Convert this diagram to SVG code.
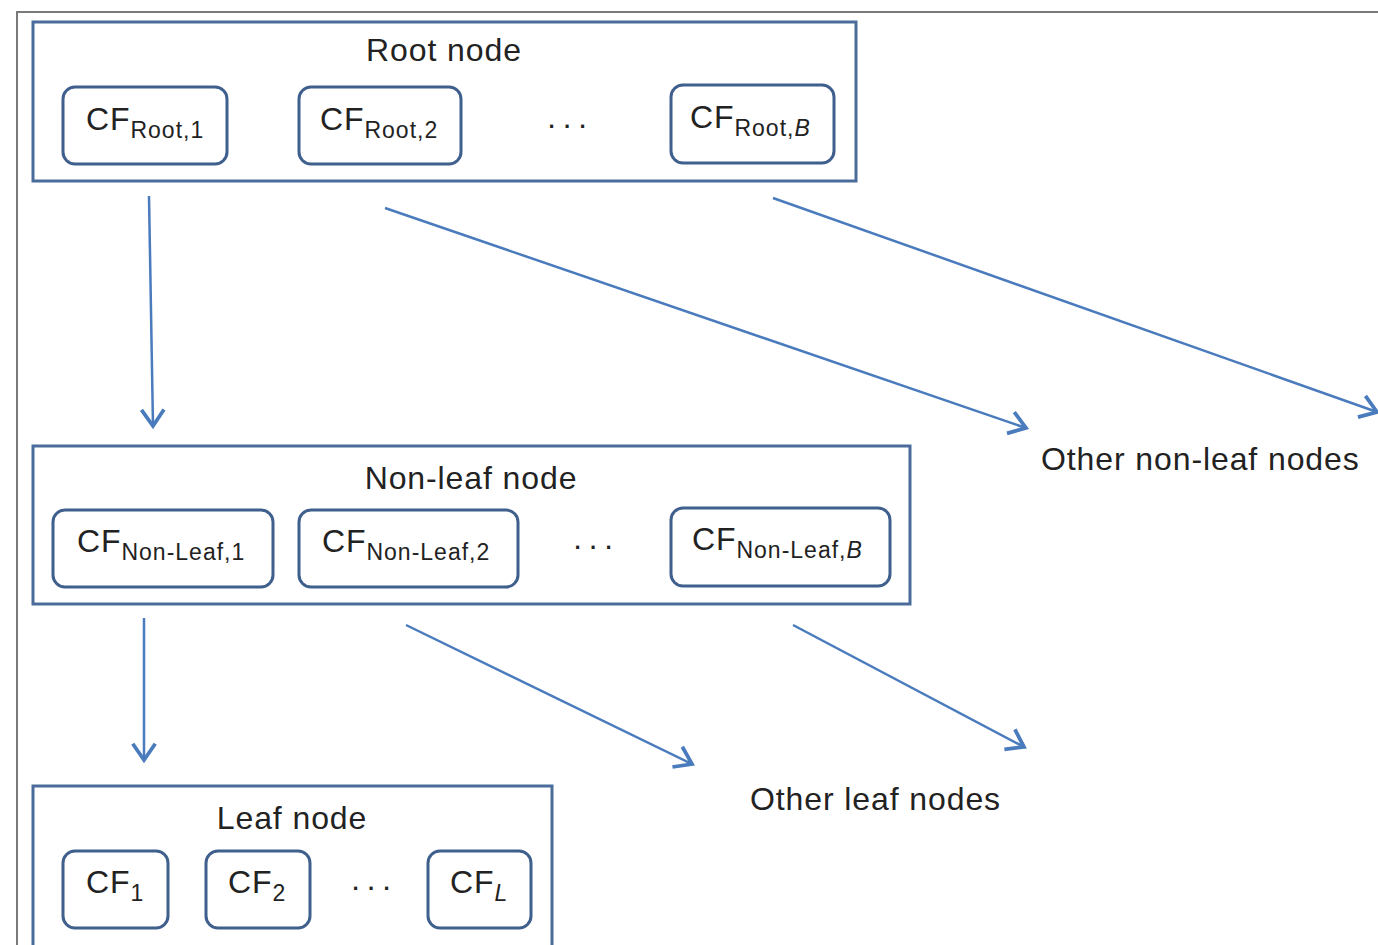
<svg xmlns="http://www.w3.org/2000/svg" width="1378" height="945" viewBox="0 0 1378 945">
<style>
.frame{fill:none;stroke:#7a7a7a;stroke-width:2}
.box{fill:#fff;stroke:#4a6c9b;stroke-width:3}
.cf{fill:#fff;stroke:#3f5f8c;stroke-width:3}
.t{font-family:"Liberation Sans",Arial,sans-serif;fill:#222;font-size:32px;letter-spacing:0.9px}
.sub{font-size:23px;letter-spacing:1px}
.dots{letter-spacing:-2px}
.conn{fill:none;stroke:#4a7bbd;stroke-width:2.5}
</style>
<defs>
<marker id="ah" markerUnits="userSpaceOnUse" markerWidth="30" markerHeight="30" viewBox="-16 -12 20 24" refX="0" refY="0" orient="auto">
<path d="M-13,-9 L0,0 L-13,9" fill="none" stroke="#4a7bbd" stroke-width="3" stroke-linejoin="miter"/>
</marker>
</defs>
<rect width="1378" height="945" fill="#fff"/>
<path class="frame" d="M17,945 V12 H1378"/>
<g id="root">
<rect class="box" x="33" y="22" width="823" height="159"/>
<text class="t" x="444" y="61" text-anchor="middle">Root node</text>
<rect class="cf" x="63" y="87" width="164" height="77" rx="12"/>
<text class="t" x="86" y="130">CF<tspan class="sub" dy="8">Root,1</tspan></text>
<rect class="cf" x="299" y="87" width="162" height="77" rx="12"/>
<text class="t" x="320" y="130">CF<tspan class="sub" dy="8">Root,2</tspan></text>
<text class="t dots" x="566" y="135" text-anchor="middle">· · ·</text>
<rect class="cf" x="671" y="85" width="163" height="78" rx="12"/>
<text class="t" x="690" y="128">CF<tspan class="sub" dy="8">Root,<tspan font-style="italic">B</tspan></tspan></text>
</g>
<g id="nonleaf">
<rect class="box" x="33" y="446" width="877" height="158"/>
<text class="t" x="471" y="489" text-anchor="middle">Non-leaf node</text>
<rect class="cf" x="53" y="510" width="220" height="77" rx="12"/>
<text class="t" x="77" y="552">CF<tspan class="sub" dy="8">Non-Leaf,1</tspan></text>
<rect class="cf" x="299" y="510" width="219" height="77" rx="12"/>
<text class="t" x="322" y="552">CF<tspan class="sub" dy="8">Non-Leaf,2</tspan></text>
<text class="t dots" x="592" y="556" text-anchor="middle">· · ·</text>
<rect class="cf" x="671" y="508" width="219" height="78" rx="12"/>
<text class="t" x="692" y="550">CF<tspan class="sub" dy="8">Non-Leaf,<tspan font-style="italic">B</tspan></tspan></text>
</g>
<g id="leaf">
<rect class="box" x="33" y="786" width="519" height="170"/>
<text class="t" x="292" y="829" text-anchor="middle">Leaf node</text>
<rect class="cf" x="63" y="851" width="105" height="77" rx="12"/>
<text class="t" x="86" y="893">CF<tspan class="sub" dy="8">1</tspan></text>
<rect class="cf" x="206" y="851" width="104" height="77" rx="12"/>
<text class="t" x="228" y="893">CF<tspan class="sub" dy="8">2</tspan></text>
<text class="t dots" x="370" y="897" text-anchor="middle">· · ·</text>
<rect class="cf" x="428" y="851" width="103" height="77" rx="12"/>
<text class="t" x="450" y="893">CF<tspan class="sub" dy="8" font-style="italic">L</tspan></text>
</g>
<g id="other-nonleaf">
<text class="t" x="1041" y="470">Other non-leaf nodes</text>
</g>
<g id="other-leaf">
<text class="t" x="750" y="810">Other leaf nodes</text>
</g>
<g id="connectors">
<line class="conn" x1="149" y1="196" x2="153" y2="426" marker-end="url(#ah)"/>
<line class="conn" x1="385" y1="208" x2="1026" y2="428" marker-end="url(#ah)"/>
<line class="conn" x1="773" y1="198" x2="1377" y2="412" marker-end="url(#ah)"/>
<line class="conn" x1="144" y1="618" x2="144" y2="760" marker-end="url(#ah)"/>
<line class="conn" x1="406" y1="625" x2="692" y2="764" marker-end="url(#ah)"/>
<line class="conn" x1="793" y1="625" x2="1024" y2="747" marker-end="url(#ah)"/>
</g>
</svg>
